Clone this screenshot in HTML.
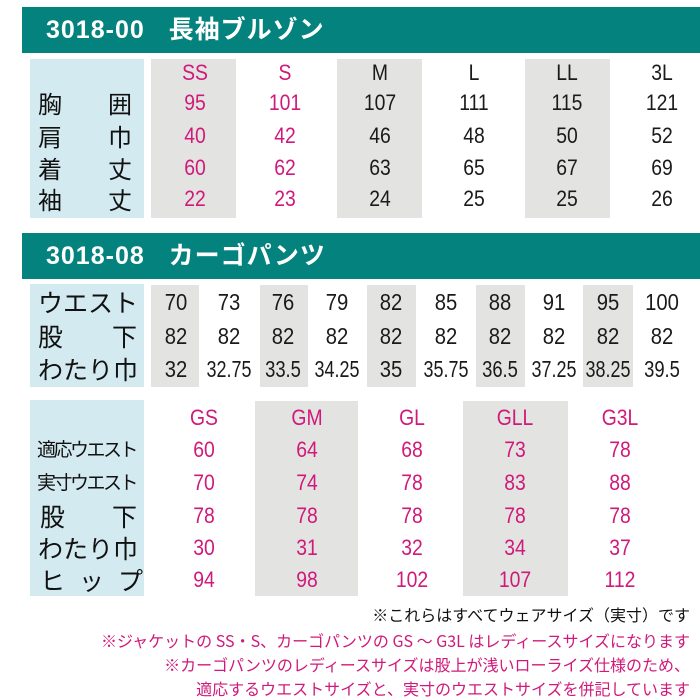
<!DOCTYPE html>
<html><head><meta charset="utf-8"><style>
body{margin:0;width:700px;height:700px;background:#fff;position:relative;overflow:hidden;font-family:"Liberation Sans","Noto Sans CJK JP",sans-serif}
.bar{position:absolute;left:22px;width:678px;height:46px;background:#04827e;color:#fff;font-weight:bold;font-size:25px;line-height:46px;padding-left:24px;box-sizing:border-box;letter-spacing:1px}
.bx{position:absolute}
.lb{background:#d3eaf0}
.gr{background:#e3e3e1}
.c{position:absolute;width:100px;margin-left:-50px;text-align:center;height:26px;line-height:26px;font-size:22px;font-family:"Liberation Sans",sans-serif;transform:scaleX(0.88)}
.p{color:#d0197a}
.k{color:#1a1a1a}
.t{position:absolute;font-size:24px;line-height:28px;color:#111;font-family:"Noto Sans CJK JP",sans-serif}
.n{position:absolute;right:10px;font-size:16px;line-height:20px;font-family:"Noto Sans CJK JP",sans-serif;white-space:nowrap}
</style></head><body>
<div class="bar" style="top:7px">3018-00&nbsp;&nbsp;&nbsp;長袖ブルゾン</div>
<div class="bx lb" style="left:30px;top:59px;width:114px;height:159px"></div>
<div class="bx gr" style="left:151px;top:59px;width:85px;height:159px"></div>
<div class="bx gr" style="left:337px;top:59px;width:85px;height:159px"></div>
<div class="bx gr" style="left:525px;top:59px;width:85px;height:159px"></div>
<div class="t" style="left:38px;top:89px">胸</div><div class="t" style="left:108px;top:89px">囲</div>
<div class="t" style="left:38px;top:122px">肩</div><div class="t" style="left:108px;top:122px">巾</div>
<div class="t" style="left:38px;top:154px">着</div><div class="t" style="left:108px;top:154px">丈</div>
<div class="t" style="left:38px;top:185px">袖</div><div class="t" style="left:108px;top:185px">丈</div>

<div class="c p" style="left:195px;top:60px">SS</div><div class="c p" style="left:285px;top:60px">S</div><div class="c k" style="left:380px;top:60px">M</div><div class="c k" style="left:474px;top:60px">L</div><div class="c k" style="left:567px;top:60px">LL</div><div class="c k" style="left:662px;top:60px">3L</div>
<div class="c p" style="left:195px;top:90px">95</div><div class="c p" style="left:285px;top:90px">101</div><div class="c k" style="left:380px;top:90px">107</div><div class="c k" style="left:474px;top:90px">111</div><div class="c k" style="left:567px;top:90px">115</div><div class="c k" style="left:662px;top:90px">121</div>
<div class="c p" style="left:195px;top:123px">40</div><div class="c p" style="left:285px;top:123px">42</div><div class="c k" style="left:380px;top:123px">46</div><div class="c k" style="left:474px;top:123px">48</div><div class="c k" style="left:567px;top:123px">50</div><div class="c k" style="left:662px;top:123px">52</div>
<div class="c p" style="left:195px;top:155px">60</div><div class="c p" style="left:285px;top:155px">62</div><div class="c k" style="left:380px;top:155px">63</div><div class="c k" style="left:474px;top:155px">65</div><div class="c k" style="left:567px;top:155px">67</div><div class="c k" style="left:662px;top:155px">69</div>
<div class="c p" style="left:195px;top:186px">22</div><div class="c p" style="left:285px;top:186px">23</div><div class="c k" style="left:380px;top:186px">24</div><div class="c k" style="left:474px;top:186px">25</div><div class="c k" style="left:567px;top:186px">25</div><div class="c k" style="left:662px;top:186px">26</div>

<div class="bar" style="top:233px">3018-08&nbsp;&nbsp;&nbsp;カーゴパンツ</div>
<div class="bx lb" style="left:30px;top:284px;width:114px;height:103px"></div>
<div class="bx gr" style="left:151px;top:285px;width:48px;height:102px"></div>
<div class="bx gr" style="left:260px;top:285px;width:48px;height:102px"></div>
<div class="bx gr" style="left:367px;top:285px;width:49px;height:102px"></div>
<div class="bx gr" style="left:476px;top:285px;width:49px;height:102px"></div>
<div class="bx gr" style="left:583px;top:285px;width:50px;height:102px"></div>
<div class="t" style="left:38px;top:288px;font-size:25px">ウエスト</div>
<div class="t" style="left:38px;top:322px;font-size:25px">股</div><div class="t" style="left:112px;top:322px;font-size:25px">下</div>
<div class="t" style="left:38px;top:355px;font-size:25px">わたり巾</div>
<div class="c k" style="left:176px;top:289px;font-size:23px">70</div><div class="c k" style="left:229px;top:289px;font-size:23px">73</div><div class="c k" style="left:283px;top:289px;font-size:23px">76</div><div class="c k" style="left:337px;top:289px;font-size:23px">79</div><div class="c k" style="left:391px;top:289px;font-size:23px">82</div><div class="c k" style="left:446px;top:289px;font-size:23px">85</div><div class="c k" style="left:500px;top:289px;font-size:23px">88</div><div class="c k" style="left:554px;top:289px;font-size:23px">91</div><div class="c k" style="left:608px;top:289px;font-size:23px">95</div><div class="c k" style="left:662px;top:289px;font-size:23px">100</div>
<div class="c k" style="left:176px;top:323px;font-size:23px">82</div><div class="c k" style="left:229px;top:323px;font-size:23px">82</div><div class="c k" style="left:283px;top:323px;font-size:23px">82</div><div class="c k" style="left:337px;top:323px;font-size:23px">82</div><div class="c k" style="left:391px;top:323px;font-size:23px">82</div><div class="c k" style="left:446px;top:323px;font-size:23px">82</div><div class="c k" style="left:500px;top:323px;font-size:23px">82</div><div class="c k" style="left:554px;top:323px;font-size:23px">82</div><div class="c k" style="left:608px;top:323px;font-size:23px">82</div><div class="c k" style="left:662px;top:323px;font-size:23px">82</div>
<div class="c k" style="left:176px;top:356px;font-size:23px">32</div><div class="c k" style="left:229px;top:356px;font-size:23px;transform:scaleX(0.78)">32.75</div><div class="c k" style="left:283px;top:356px;font-size:23px;transform:scaleX(0.8)">33.5</div><div class="c k" style="left:337px;top:356px;font-size:23px;transform:scaleX(0.78)">34.25</div><div class="c k" style="left:391px;top:356px;font-size:23px">35</div><div class="c k" style="left:446px;top:356px;font-size:23px;transform:scaleX(0.78)">35.75</div><div class="c k" style="left:500px;top:356px;font-size:23px;transform:scaleX(0.8)">36.5</div><div class="c k" style="left:554px;top:356px;font-size:23px;transform:scaleX(0.78)">37.25</div><div class="c k" style="left:608px;top:356px;font-size:23px;transform:scaleX(0.78)">38.25</div><div class="c k" style="left:662px;top:356px;font-size:23px;transform:scaleX(0.8)">39.5</div>

<div class="bx lb" style="left:30px;top:400px;width:114px;height:196px"></div>
<div class="bx gr" style="left:255px;top:401px;width:103px;height:195px"></div>
<div class="bx gr" style="left:463px;top:401px;width:105px;height:195px"></div>
<div class="t" style="left:37px;top:435px;font-size:19px;letter-spacing:-2.5px">適応ウエスト</div>
<div class="t" style="left:37px;top:468px;font-size:19px;letter-spacing:-2.5px">実寸ウエスト</div>
<div class="t" style="left:40px;top:502px;font-size:25px">股</div><div class="t" style="left:112px;top:502px;font-size:25px">下</div>
<div class="t" style="left:38px;top:534px;font-size:25px">わたり巾</div>
<div class="t" style="left:40px;top:566px;font-size:25px;letter-spacing:14px">ヒップ</div>
<div class="c p" style="left:204px;top:405px">GS</div><div class="c p" style="left:307px;top:405px">GM</div><div class="c p" style="left:412px;top:405px">GL</div><div class="c p" style="left:515px;top:405px">GLL</div><div class="c p" style="left:620px;top:405px">G3L</div>
<div class="c p" style="left:204px;top:437px">60</div><div class="c p" style="left:307px;top:437px">64</div><div class="c p" style="left:412px;top:437px">68</div><div class="c p" style="left:515px;top:437px">73</div><div class="c p" style="left:620px;top:437px">78</div>
<div class="c p" style="left:204px;top:470px">70</div><div class="c p" style="left:307px;top:470px">74</div><div class="c p" style="left:412px;top:470px">78</div><div class="c p" style="left:515px;top:470px">83</div><div class="c p" style="left:620px;top:470px">88</div>
<div class="c p" style="left:204px;top:503px">78</div><div class="c p" style="left:307px;top:503px">78</div><div class="c p" style="left:412px;top:503px">78</div><div class="c p" style="left:515px;top:503px">78</div><div class="c p" style="left:620px;top:503px">78</div>
<div class="c p" style="left:204px;top:535px">30</div><div class="c p" style="left:307px;top:535px">31</div><div class="c p" style="left:412px;top:535px">32</div><div class="c p" style="left:515px;top:535px">34</div><div class="c p" style="left:620px;top:535px">37</div>
<div class="c p" style="left:204px;top:567px">94</div><div class="c p" style="left:307px;top:567px">98</div><div class="c p" style="left:412px;top:567px">102</div><div class="c p" style="left:515px;top:567px">107</div><div class="c p" style="left:620px;top:567px">112</div>

<div class="n" style="top:604px;color:#111">※これらはすべてウェアサイズ（実寸）です</div>
<div class="n" style="top:630px;color:#d0197a">※ジャケットの SS・S、カーゴパンツの GS ～ G3L はレディースサイズになります</div>
<div class="n" style="top:654px;color:#d0197a">※カーゴパンツのレディースサイズは股上が浅いローライズ仕様のため、</div>
<div class="n" style="top:678px;color:#d0197a">適応するウエストサイズと、実寸のウエストサイズを併記しています</div>
</body></html>
